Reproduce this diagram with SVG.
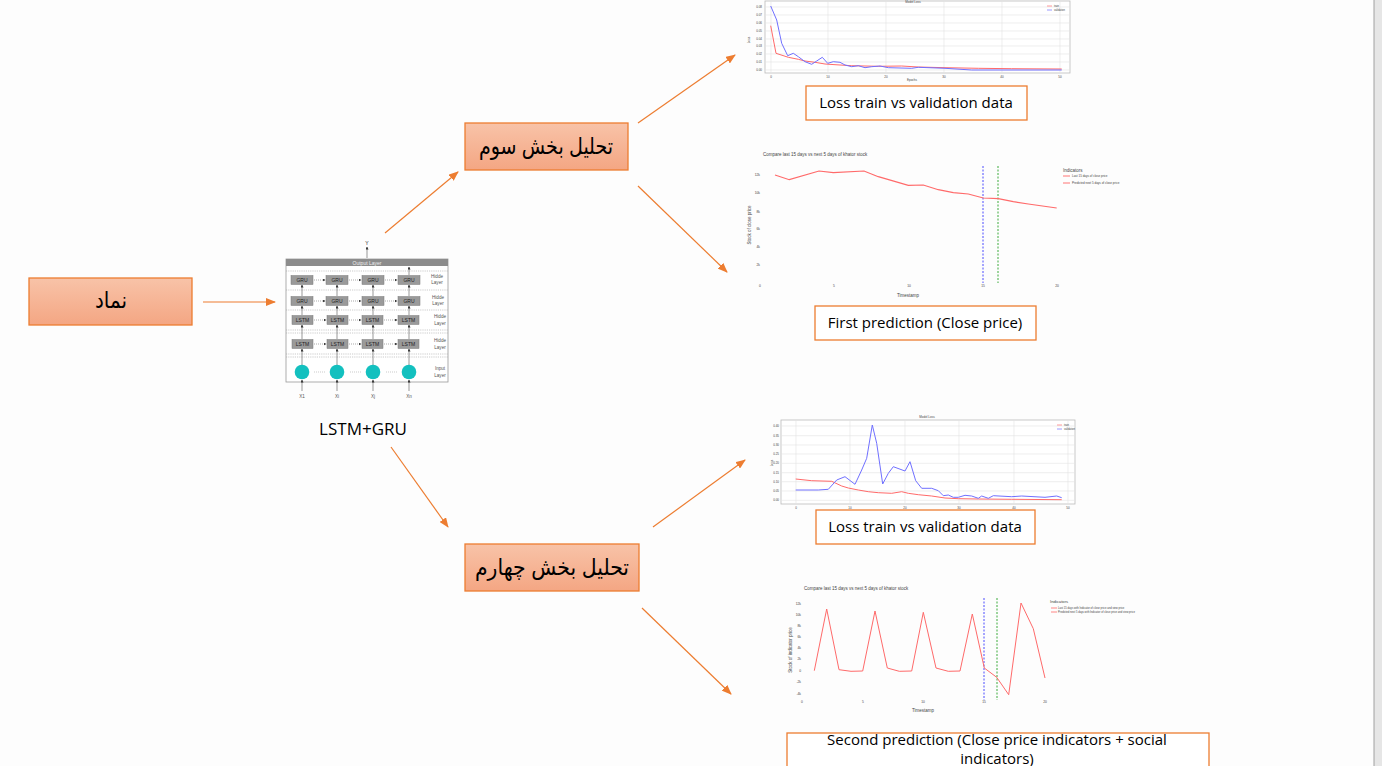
<svg xmlns="http://www.w3.org/2000/svg" width="1382" height="766" viewBox="0 0 1382 766">
<style>
.box{stroke:#ed7d31;stroke-width:1.3;fill:url(#og)}
.wbox{stroke:#ed7d31;stroke-width:1.3;fill:#fff}
.fa{font-family:"Liberation Sans","DejaVu Sans",sans-serif;font-size:23px;fill:#000;text-anchor:middle}
.en{font-family:"Open Sans","Liberation Sans",sans-serif;font-size:15px;fill:#000;text-anchor:middle}
.conn{stroke:#ed7d31;stroke-width:1.2;fill:none;marker-end:url(#ah)}
.t{font-family:"Liberation Sans",sans-serif;fill:#444}
.grid{stroke:#e2e2e2;stroke-width:0.6}
.frame{fill:#fff;stroke:#bbb;stroke-width:0.8}
.red{fill:none;stroke:#ff6a6a;stroke-width:1}
.blue{fill:none;stroke:#7070ff;stroke-width:1}
.nb{fill:#9a9a9a;stroke:#7a7a7a;stroke-width:0.5}
.nt{font-family:"Liberation Sans",sans-serif;font-size:5px;fill:#222;text-anchor:middle}
.nl{font-family:"Liberation Sans",sans-serif;font-size:4.6px;fill:#555;text-anchor:middle}
.sep{stroke:#aaa;stroke-width:0.6;stroke-dasharray:1.2 1}
.ha{stroke:#555;stroke-width:0.5;stroke-dasharray:1 1;marker-end:url(#sa)}
.va{stroke:#333;stroke-width:0.5;marker-end:url(#sa)}
</style>
<defs>
<linearGradient id="og" x1="0" y1="0" x2="0" y2="1">
<stop offset="0" stop-color="#f8c3a8"/>
<stop offset="1" stop-color="#f4a683"/>
</linearGradient>
<marker id="ah" markerWidth="10" markerHeight="8" refX="9" refY="4" orient="auto" markerUnits="userSpaceOnUse">
<path d="M0,0 L10,4 L0,8 Z" fill="#ed7d31"/>
</marker>
<marker id="sa" markerWidth="3" markerHeight="3" refX="2.5" refY="1.5" orient="auto" markerUnits="userSpaceOnUse">
<path d="M0,0 L3,1.5 L0,3 Z" fill="#333"/>
</marker>
</defs>
<rect x="0" y="0" width="1382" height="766" fill="#fdfdfd"/>
<rect x="1374" y="0" width="8" height="766" fill="#e6e6e6"/>
<line x1="1374" y1="0" x2="1374" y2="766" stroke="#a0a0a0" stroke-width="1"/>

<g id="connectors">
<path class="conn" d="M203,302 L275,302"/>
<path class="conn" d="M385,233 L458,172"/>
<path class="conn" d="M638,123 L735,55"/>
<path class="conn" d="M638,186 L727,272"/>
<path class="conn" d="M391,447 L448,527"/>
<path class="conn" d="M653,527 L745,460"/>
<path class="conn" d="M642,608 L731,694"/>
</g>

<g id="node-symbol">
<rect class="box" x="29" y="278" width="163" height="47"/>
<text class="fa" x="111" y="308" direction="rtl" textLength="32" lengthAdjust="spacingAndGlyphs">نماد</text>
</g>

<g id="node-part3">
<rect class="box" x="465" y="123" width="163" height="47"/>
<text class="fa" x="546" y="154" direction="rtl" textLength="134" lengthAdjust="spacingAndGlyphs">تحليل بخش سوم</text>
</g>

<g id="node-part4">
<rect class="box" x="465" y="544" width="174" height="47"/>
<text class="fa" x="552" y="575" direction="rtl" textLength="154" lengthAdjust="spacingAndGlyphs">تحليل بخش چهارم</text>
</g>

<g id="node-lstm-gru">
<rect x="286" y="259" width="162" height="123" fill="#fff" stroke="#999" stroke-width="0.8"/>
<rect x="286" y="259" width="162" height="7" fill="#8c8c8c"/>
<text class="nt" x="367" y="264.5" style="fill:#eee">Output Layer</text>
<line class="va" x1="367" y1="258" x2="367" y2="247"/>
<text class="nt" x="367" y="245">Y</text>
<line class="sep" x1="286" y1="271" x2="448" y2="271"/>
<line class="sep" x1="286" y1="290" x2="448" y2="290"/>
<line class="sep" x1="286" y1="310" x2="448" y2="310"/>
<line class="sep" x1="286" y1="330" x2="448" y2="330"/>
<line class="sep" x1="286" y1="333" x2="448" y2="333"/>
<line class="sep" x1="286" y1="354" x2="448" y2="354"/>
<line class="sep" x1="286" y1="357" x2="448" y2="357"/>
<g>
<line class="va" x1="302" y1="391" x2="302" y2="380"/>
<line class="va" x1="337" y1="391" x2="337" y2="380"/>
<line class="va" x1="373" y1="391" x2="373" y2="380"/>
<line class="va" x1="409" y1="391" x2="409" y2="380"/>
<line class="va" x1="302" y1="365" x2="302" y2="349"/>
<line class="va" x1="337" y1="365" x2="337" y2="349"/>
<line class="va" x1="373" y1="365" x2="373" y2="349"/>
<line class="va" x1="409" y1="365" x2="409" y2="349"/>
<line class="va" x1="302" y1="339" x2="302" y2="325"/>
<line class="va" x1="337" y1="339" x2="337" y2="325"/>
<line class="va" x1="373" y1="339" x2="373" y2="325"/>
<line class="va" x1="409" y1="339" x2="409" y2="325"/>
<line class="va" x1="302" y1="315" x2="302" y2="306"/>
<line class="va" x1="337" y1="315" x2="337" y2="306"/>
<line class="va" x1="373" y1="315" x2="373" y2="306"/>
<line class="va" x1="409" y1="315" x2="409" y2="306"/>
<line class="va" x1="302" y1="296" x2="302" y2="285"/>
<line class="va" x1="337" y1="296" x2="337" y2="285"/>
<line class="va" x1="373" y1="296" x2="373" y2="285"/>
<line class="va" x1="409" y1="296" x2="409" y2="285"/>
<line class="va" x1="409" y1="275" x2="409" y2="267"/>
</g>
<g>
<rect class="nb" x="291" y="275.5" width="22" height="9"/><text class="nt" x="302" y="281.8">GRU</text>
<rect class="nb" x="326" y="275.5" width="22" height="9"/><text class="nt" x="337" y="281.8">GRU</text>
<rect class="nb" x="362" y="275.5" width="22" height="9"/><text class="nt" x="373" y="281.8">GRU</text>
<rect class="nb" x="398" y="275.5" width="22" height="9"/><text class="nt" x="409" y="281.8">GRU</text>
<line class="ha" x1="314" y1="280" x2="325" y2="280"/>
<line class="ha" x1="349" y1="280" x2="361" y2="280"/>
<line class="ha" x1="385" y1="280" x2="397" y2="280"/>

<rect class="nb" x="291" y="296.5" width="22" height="9"/><text class="nt" x="302" y="302.8">GRU</text>
<rect class="nb" x="326" y="296.5" width="22" height="9"/><text class="nt" x="337" y="302.8">GRU</text>
<rect class="nb" x="362" y="296.5" width="22" height="9"/><text class="nt" x="373" y="302.8">GRU</text>
<rect class="nb" x="398" y="296.5" width="22" height="9"/><text class="nt" x="409" y="302.8">GRU</text>
<line class="ha" x1="314" y1="301" x2="325" y2="301"/>
<line class="ha" x1="349" y1="301" x2="361" y2="301"/>
<line class="ha" x1="385" y1="301" x2="397" y2="301"/>

<rect class="nb" x="292" y="315.5" width="21" height="9"/><text class="nt" x="302.5" y="321.8">LSTM</text>
<rect class="nb" x="327" y="315.5" width="21" height="9"/><text class="nt" x="337.5" y="321.8">LSTM</text>
<rect class="nb" x="362" y="315.5" width="21" height="9"/><text class="nt" x="372.5" y="321.8">LSTM</text>
<rect class="nb" x="398" y="315.5" width="21" height="9"/><text class="nt" x="408.5" y="321.8">LSTM</text>
<line class="ha" x1="314" y1="320" x2="326" y2="320"/>
<line class="ha" x1="349" y1="320" x2="361" y2="320"/>
<line class="ha" x1="384" y1="320" x2="397" y2="320"/>

<rect class="nb" x="292" y="339.5" width="21" height="9"/><text class="nt" x="302.5" y="345.8">LSTM</text>
<rect class="nb" x="327" y="339.5" width="21" height="9"/><text class="nt" x="337.5" y="345.8">LSTM</text>
<rect class="nb" x="362" y="339.5" width="21" height="9"/><text class="nt" x="372.5" y="345.8">LSTM</text>
<rect class="nb" x="398" y="339.5" width="21" height="9"/><text class="nt" x="408.5" y="345.8">LSTM</text>
<line class="ha" x1="314" y1="344" x2="326" y2="344"/>
<line class="ha" x1="349" y1="344" x2="361" y2="344"/>
<line class="ha" x1="384" y1="344" x2="397" y2="344"/>

<circle cx="302" cy="372" r="7.3" fill="#13c0bf"/>
<circle cx="337" cy="372" r="7.3" fill="#13c0bf"/>
<circle cx="373" cy="372" r="7.3" fill="#13c0bf"/>
<circle cx="409" cy="372" r="7.3" fill="#13c0bf"/>
<line x1="314" y1="372" x2="325" y2="372" stroke="#aaa" stroke-width="0.6" stroke-dasharray="1 1"/>
<line x1="350" y1="372" x2="361" y2="372" stroke="#aaa" stroke-width="0.6" stroke-dasharray="1 1"/>
<line x1="386" y1="372" x2="397" y2="372" stroke="#aaa" stroke-width="0.6" stroke-dasharray="1 1"/>
</g>
<text class="nl" x="437" y="278">Hidde</text><text class="nl" x="437" y="284">Layer</text>
<text class="nl" x="438" y="299">Hidde</text><text class="nl" x="438" y="305">Layer</text>
<text class="nl" x="440" y="318">Hidde</text><text class="nl" x="440" y="325">Layer</text>
<text class="nl" x="440" y="342">Hidde</text><text class="nl" x="440" y="349">Layer</text>
<text class="nl" x="440" y="370">Input</text><text class="nl" x="440" y="377">Layer</text>
<text class="nl" x="302" y="398">X1</text>
<text class="nl" x="337" y="398">Xi</text>
<text class="nl" x="373" y="398">Xj</text>
<text class="nl" x="409" y="398">Xn</text>
<text class="en" x="363" y="435" style="font-size:17px">LSTM+GRU</text>
</g>

<g id="chart-loss1">
<rect class="frame" x="765" y="1" width="305" height="72"/>
<g class="grid">
<line x1="771" y1="1" x2="771" y2="73"/><line x1="828" y1="1" x2="828" y2="73"/><line x1="886" y1="1" x2="886" y2="73"/><line x1="944" y1="1" x2="944" y2="73"/><line x1="1002" y1="1" x2="1002" y2="73"/><line x1="1060" y1="1" x2="1060" y2="73"/>
<line x1="765" y1="7" x2="1070" y2="7"/><line x1="765" y1="15" x2="1070" y2="15"/><line x1="765" y1="23" x2="1070" y2="23"/><line x1="765" y1="31" x2="1070" y2="31"/><line x1="765" y1="39" x2="1070" y2="39"/><line x1="765" y1="46" x2="1070" y2="46"/><line x1="765" y1="54" x2="1070" y2="54"/><line x1="765" y1="62" x2="1070" y2="62"/><line x1="765" y1="70" x2="1070" y2="70"/>
</g>
<g class="t" style="font-size:3px" text-anchor="end">
<text x="762" y="8">0.08</text><text x="762" y="16">0.07</text><text x="762" y="24">0.06</text><text x="762" y="32">0.05</text><text x="762" y="40">0.04</text><text x="762" y="47">0.03</text><text x="762" y="55">0.02</text><text x="762" y="63">0.01</text><text x="762" y="71">0.00</text>
</g>
<g class="t" style="font-size:3px" text-anchor="middle">
<text x="771" y="78">0</text><text x="828" y="78">10</text><text x="886" y="78">20</text><text x="944" y="78">30</text><text x="1002" y="78">40</text><text x="1060" y="78">50</text>
<text x="912" y="81">Epochs</text>
<text x="913" y="3">Model Loss</text>
<text x="0" y="0" transform="translate(750,40) rotate(-90)">Loss</text>
</g>
<polyline class="red" points="770.7,25.7 776,53.3 788.3,57.3 798.3,59.3 805,61 815,62.3 825,64 835,64.7 851.7,65.7 878.3,66.3 901.7,66 918.3,67 945,67.7 978.3,68.3 1011.7,68.7 1061.7,69"/>
<polyline class="blue" points="770.7,6 776.7,20 781.7,43.3 787.7,55.7 793.3,53.3 798.3,56.7 805,61.7 811.7,64.3 816.7,61 822.3,57.3 827.7,63.3 833.3,61.7 840,62.3 845,65 851.7,66.7 858.3,65.7 865,67.7 871.7,66.7 880,66 888.3,67.7 911.7,68.3 918.3,67.3 945,68.3 971.7,70 1061.7,70"/>
<line x1="1047" y1="6" x2="1052" y2="6" stroke="#ff8080" stroke-width="0.8"/>
<line x1="1047" y1="10" x2="1052" y2="10" stroke="#8080ff" stroke-width="0.8"/>
<text class="t" x="1054" y="7" style="font-size:2.6px">train</text>
<text class="t" x="1054" y="11" style="font-size:2.6px">validation</text>
</g>

<g id="node-loss1-label">
<rect class="wbox" x="806" y="86" width="221" height="34"/>
<text class="en" x="916" y="108">Loss train vs validation data</text>
</g>

<g id="chart-pred1">
<text class="t" x="763" y="156" style="font-size:4.5px">Compare last 15 days vs next 5 days of khator stock</text>
<g class="t" style="font-size:3.3px" text-anchor="end">
<text x="760" y="176">12k</text><text x="760" y="194">10k</text><text x="760" y="213">8k</text><text x="760" y="230">6k</text><text x="760" y="248">4k</text><text x="760" y="266">2k</text>
</g>
<g class="t" style="font-size:3.3px" text-anchor="middle">
<text x="760" y="287">0</text><text x="834" y="287">5</text><text x="909" y="287">10</text><text x="983" y="287">15</text><text x="1057" y="287">20</text>
<text x="908" y="297" style="font-size:4.5px">Timestamp</text>
<text x="0" y="0" transform="translate(751,225) rotate(-90)" style="font-size:4.5px">Stock of close price</text>
</g>
<line x1="983" y1="166" x2="983" y2="283" stroke="#4d4dff" stroke-width="1" stroke-dasharray="2 1.5"/>
<line x1="998" y1="166" x2="998" y2="283" stroke="#3cab3c" stroke-width="1" stroke-dasharray="2 1.5"/>
<polyline class="red" style="stroke-width:1.2" points="775,175 789.3,179.7 819,171 833.3,172.7 864,171 878.3,176.7 908.3,185.3 923.3,185 938.3,189.7 953.3,192.7 968.3,194 983.3,198 998.3,198.7 1013.3,201.7 1028.3,204 1056.7,208"/>
<text class="t" x="1063" y="172" style="font-size:4.5px">Indicators</text>
<line x1="1063" y1="176" x2="1070" y2="176" stroke="#ff5050" stroke-width="0.8"/>
<line x1="1063" y1="183" x2="1070" y2="183" stroke="#ff5050" stroke-width="0.8"/>
<text class="t" x="1072" y="177" style="font-size:3px">Last 15 days of close price</text>
<text class="t" x="1072" y="184" style="font-size:3px">Predicted next 5 days of close price</text>
</g>

<g id="node-pred1-label">
<rect class="wbox" x="815" y="306" width="221" height="34"/>
<text class="en" x="925" y="328">First prediction (Close price)</text>
</g>

<g id="chart-loss2">
<rect class="frame" x="781" y="420" width="294" height="84"/>
<g class="grid">
<line x1="796" y1="420" x2="796" y2="504"/><line x1="850" y1="420" x2="850" y2="504"/><line x1="905" y1="420" x2="905" y2="504"/><line x1="959" y1="420" x2="959" y2="504"/><line x1="1014" y1="420" x2="1014" y2="504"/><line x1="1068" y1="420" x2="1068" y2="504"/>
<line x1="781" y1="426" x2="1075" y2="426"/><line x1="781" y1="435.7" x2="1075" y2="435.7"/><line x1="781" y1="445" x2="1075" y2="445"/><line x1="781" y1="454" x2="1075" y2="454"/><line x1="781" y1="463.3" x2="1075" y2="463.3"/><line x1="781" y1="472.7" x2="1075" y2="472.7"/><line x1="781" y1="481.7" x2="1075" y2="481.7"/><line x1="781" y1="491" x2="1075" y2="491"/><line x1="781" y1="500.3" x2="1075" y2="500.3"/>
</g>
<g class="t" style="font-size:3px" text-anchor="end">
<text x="779" y="427">0.40</text><text x="779" y="436.7">0.35</text><text x="779" y="446">0.30</text><text x="779" y="455">0.25</text><text x="779" y="464.3">0.20</text><text x="779" y="473.7">0.15</text><text x="779" y="482.7">0.10</text><text x="779" y="492">0.05</text><text x="779" y="501.3">0.00</text>
</g>
<g class="t" style="font-size:3px" text-anchor="middle">
<text x="796" y="509">0</text><text x="850" y="509">10</text><text x="905" y="509">20</text><text x="959" y="509">30</text><text x="1014" y="509">40</text><text x="1068" y="509">50</text>
<text x="927" y="418">Model Loss</text>
<text x="0" y="0" transform="translate(773,463) rotate(-90)">Loss</text>
</g>
<polyline class="red" points="795.7,479 811.7,480.7 831.7,481.3 841.7,486 848.3,488 858.3,490 868.3,491.7 878.3,492.7 891.7,493.3 901.7,491.7 908.3,493.3 918.3,494.7 931.7,496 945,498 958.3,498.7 978.3,499 1011.7,499.3 1061.7,499.7"/>
<polyline class="blue" points="795.7,490 818.3,490 828.3,489.3 836.7,480 845,476.7 855,484.3 861.7,470 866.7,458.3 872.3,425 876.7,443.3 882.7,484 888.3,473.3 893.3,466.7 905,471 910,461.7 915.7,480.7 921.7,488.3 931.7,488.3 938.3,490.7 943.3,495.7 948.3,495 953.3,497.3 958.3,497.3 965,495.3 971.7,496 978.3,498.3 981.7,496 988.3,498.3 993.3,495.7 1011.7,496.7 1021.7,496 1045,497.3 1056.7,496 1061.7,497.7"/>
<line x1="1057" y1="425" x2="1062" y2="425" stroke="#ff8080" stroke-width="0.8"/>
<line x1="1057" y1="429" x2="1062" y2="429" stroke="#8080ff" stroke-width="0.8"/>
<text class="t" x="1064" y="426" style="font-size:2.6px">train</text>
<text class="t" x="1064" y="430" style="font-size:2.6px">validation</text>
</g>

<g id="node-loss2-label">
<rect class="wbox" x="816" y="510" width="219" height="34"/>
<text class="en" x="925" y="532">Loss train vs validation data</text>
</g>

<g id="chart-pred2">
<text class="t" x="804" y="590" style="font-size:4.5px">Compare last 15 days vs next 5 days of khator stock</text>
<g class="t" style="font-size:3.3px" text-anchor="end">
<text x="801" y="605">12k</text><text x="801" y="616">10k</text><text x="801" y="627">8k</text><text x="801" y="638">6k</text><text x="801" y="649">4k</text><text x="801" y="660">2k</text><text x="801" y="672">0</text><text x="801" y="683">-2k</text><text x="801" y="695">-4k</text>
</g>
<g class="t" style="font-size:3.3px" text-anchor="middle">
<text x="802" y="703">0</text><text x="863" y="703">5</text><text x="923" y="703">10</text><text x="984" y="703">15</text><text x="1045" y="703">20</text>
<text x="923" y="712" style="font-size:4.5px">Timestamp</text>
<text x="0" y="0" transform="translate(792,650) rotate(-90)" style="font-size:4.5px">Stock of indicator price</text>
</g>
<line x1="984" y1="598" x2="984" y2="700" stroke="#4d4dff" stroke-width="1" stroke-dasharray="2 1.5"/>
<line x1="997" y1="598" x2="997" y2="700" stroke="#3cab3c" stroke-width="1" stroke-dasharray="2 1.5"/>
<polyline class="red" points="814.3,670.7 826.7,609 839,669.7 851,671.3 862.7,671 875,611 887.3,668 899.3,671.3 911.7,671 923.3,612.3 936,668 948.3,671.3 960,671 972.3,614 984.3,668 996.7,677.3 1008.7,694.7 1021,603 1033.3,628.7 1045,678"/>
<text class="t" x="1050" y="603" style="font-size:4.2px">Indicators</text>
<line x1="1051" y1="608" x2="1057" y2="608" stroke="#ff5050" stroke-width="0.7"/>
<line x1="1051" y1="612" x2="1057" y2="612" stroke="#ff5050" stroke-width="0.7"/>
<text class="t" x="1058" y="609" style="font-size:2.7px">Last 15 days with Indicator of close price and view price</text>
<text class="t" x="1058" y="613" style="font-size:2.7px">Predicted next 5 days with Indicator of close price and view price</text>
</g>

<g id="node-pred2-label">
<rect class="wbox" x="787" y="733" width="422" height="40"/>
<text class="en" x="997" y="745">Second prediction (Close price indicators + social</text>
<text class="en" x="997" y="764">indicators)</text>
</g>
</svg>
